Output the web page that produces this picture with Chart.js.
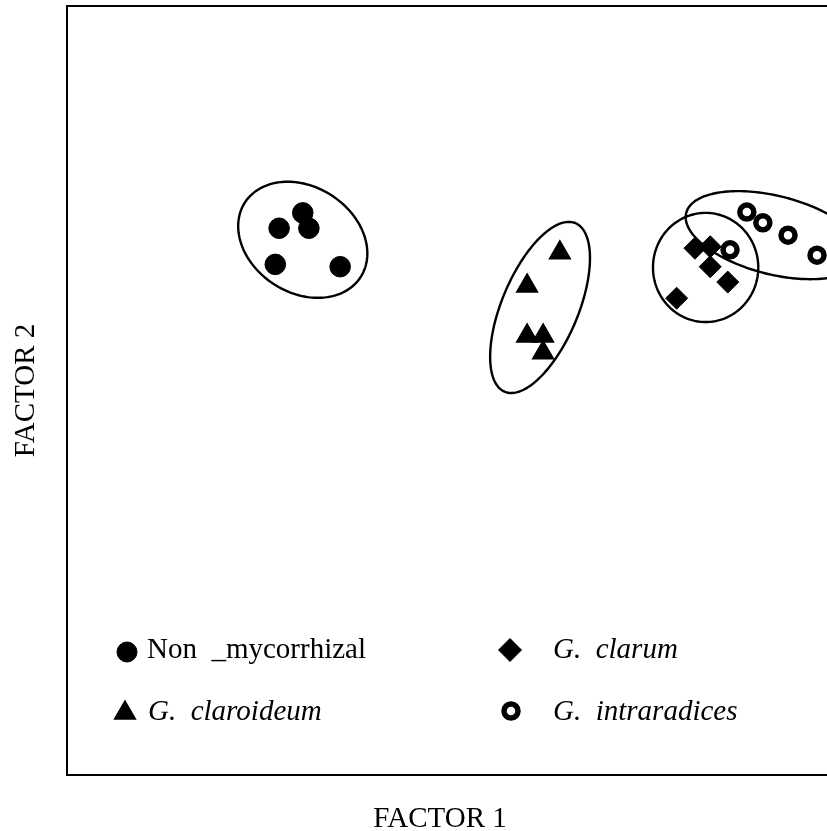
<!DOCTYPE html>
<html>
<head>
<meta charset="utf-8">
<script src="https://cdn.jsdelivr.net/npm/chart.js@4.4.1/dist/chart.umd.min.js"></script>
<style>
  html, body { margin:0; padding:0; background:#fff; overflow:hidden; }
  #wrap { width:827px; height:831px; overflow:hidden; }
</style>
</head>
<body>
<div id="wrap"><canvas id="chart" width="831" height="831"></canvas></div>
<script>
const groups = ["Non  _mycorrhizal", "G.  claroideum", "G.  clarum", "G.  intraradices"];
const axisTitles = ["FACTOR 1", "FACTOR 2"];

// factor scores (factor 1, factor 2)
const nonMycorrhizal = [[3.09,7.31],[3.17,7.11],[2.78,7.11],[2.73,6.64],[3.58,6.61]];
const claroideum = [[6.46,6.79],[6.03,6.36],[6.03,5.71],[6.24,5.71],[6.24,5.49]];
const clarum = [[8.23,6.85],[8.43,6.87],[8.43,6.61],[8.66,6.41],[7.99,6.20]];
const intraradices = [[8.91,7.32],[9.12,7.18],[9.45,7.02],[9.83,6.76],[8.69,6.83]];

// group ellipses: centre x, centre y, semi-axis a, semi-axis b, angle (deg)
const ellipses = [
  [3.09, 6.96, 0.90, 0.69, -32],
  [6.20, 6.08, 1.19, 0.50, 67],
  [8.37, 6.60, 0.69, 0.71, 0],
  [9.27, 7.02, 1.19, 0.51, -14],
];

const xRange = [0, 10];
const yRange = [0, 10];

const FONT = "'Liberation Serif', 'Times New Roman', Times, serif";

function pts(arr){ return arr.map(([x,y])=>({x, y})); }

const framePlugin = {
  id: "frame",
  afterDatasetsDraw(chart){
    const {ctx, chartArea:a, scales:{x, y}} = chart;
    ctx.save();
    ctx.strokeStyle = "#000";
    ctx.lineWidth = 2.4;
    ellipses.forEach(([cx, cy, ea, eb, deg])=>{
      const th = deg*Math.PI/180;
      ctx.beginPath();
      for (let i=0; i<=180; i++){
        const t = i/180*2*Math.PI;
        const dx = cx + ea*Math.cos(t)*Math.cos(th) - eb*Math.sin(t)*Math.sin(th);
        const dy = cy + ea*Math.cos(t)*Math.sin(th) + eb*Math.sin(t)*Math.cos(th);
        const px = x.getPixelForValue(dx), py = y.getPixelForValue(dy);
        if (i===0) ctx.moveTo(px, py); else ctx.lineTo(px, py);
      }
      ctx.closePath();
      ctx.stroke();
    });
    ctx.lineWidth = 2;
    ctx.strokeRect(a.left, a.top, a.right-a.left, a.bottom-a.top);
    ctx.restore();
  },
  afterDraw(chart){
    const {ctx, chartArea:a} = chart;
    const dp = Chart.helpers.drawPoint;
    ctx.save();
    const marks = [
      {style:"circle", r:10, bw:1, fill:"#000", x:127, y:652},
      {style:"triangle", r:12, bw:1.5, fill:"#000", x:125, y:713},
      {style:"rectRot", r:11.5, bw:1, fill:"#000", x:510, y:650},
      {style:"circle", r:7, bw:5.5, fill:"#fff", x:511, y:711},
    ];
    const textPos = [[147,658],[148,720],[553,658],[553,720]];
    marks.forEach((m,i)=>{
      ctx.fillStyle = m.fill;
      ctx.strokeStyle = "#000";
      ctx.lineWidth = m.bw;
      dp(ctx, {pointStyle:m.style, radius:m.r, rotation:0, borderWidth:m.bw}, m.x, m.y);
      ctx.fillStyle = "#000";
      ctx.textBaseline = "alphabetic";
      ctx.textAlign = "left";
      ctx.font = (i===0 ? "" : "italic ") + "29px " + FONT;
      ctx.fillText(groups[i], textPos[i][0], textPos[i][1]);
    });

    // x axis title sits a little left of the plot centre in the original
    ctx.font = "29px " + FONT;
    ctx.textAlign = "center";
    ctx.fillText(axisTitles[0], a.left + 373, 827);
    ctx.restore();
  }
};

new Chart(document.getElementById("chart"), {
  type: "scatter",
  data: {
    datasets: [
      { label: groups[0], data: pts(nonMycorrhizal), pointStyle:"circle", pointRadius:10.3,
        backgroundColor:"#000", borderColor:"#000", borderWidth:1, order:2 },
      { label: groups[1], data: pts(claroideum), pointStyle:"triangle", pointRadius:12,
        backgroundColor:"#000", borderColor:"#000", borderWidth:1.5, order:2 },
      { label: groups[2], data: pts(clarum), pointStyle:"rectRot", pointRadius:11,
        backgroundColor:"#000", borderColor:"#000", borderWidth:1, order:1 },
      { label: groups[3], data: pts(intraradices), pointStyle:"circle", pointRadius:7,
        backgroundColor:"#fff", borderColor:"#000", borderWidth:5.5, order:0 },
    ]
  },
  options: {
    responsive: false,
    animation: false,
    layout: { autoPadding: false, padding: { top:6, right:1, left:0, bottom:0 } },
    plugins: { legend: { display:false }, tooltip: { enabled:false } },
    scales: {
      x: {
        type: "linear", min: xRange[0], max: xRange[1],
        grid: { display:false }, ticks: { display:false }, border: { display:false },
        title: { display:false },
        afterFit(s){ s.height = 56; }
      },
      y: {
        type: "linear", min: yRange[0], max: yRange[1],
        grid: { display:false }, ticks: { display:false }, border: { display:false },
        title: { display:true, text:axisTitles[1], color:"#000",
          font: { family:FONT, size:29, lineHeight:1 }, padding:{ top:12, bottom:0 } },
        afterFit(s){ s.width = 67; }
      }
    }
  },
  plugins: [framePlugin]
});
</script>
</body>
</html>
